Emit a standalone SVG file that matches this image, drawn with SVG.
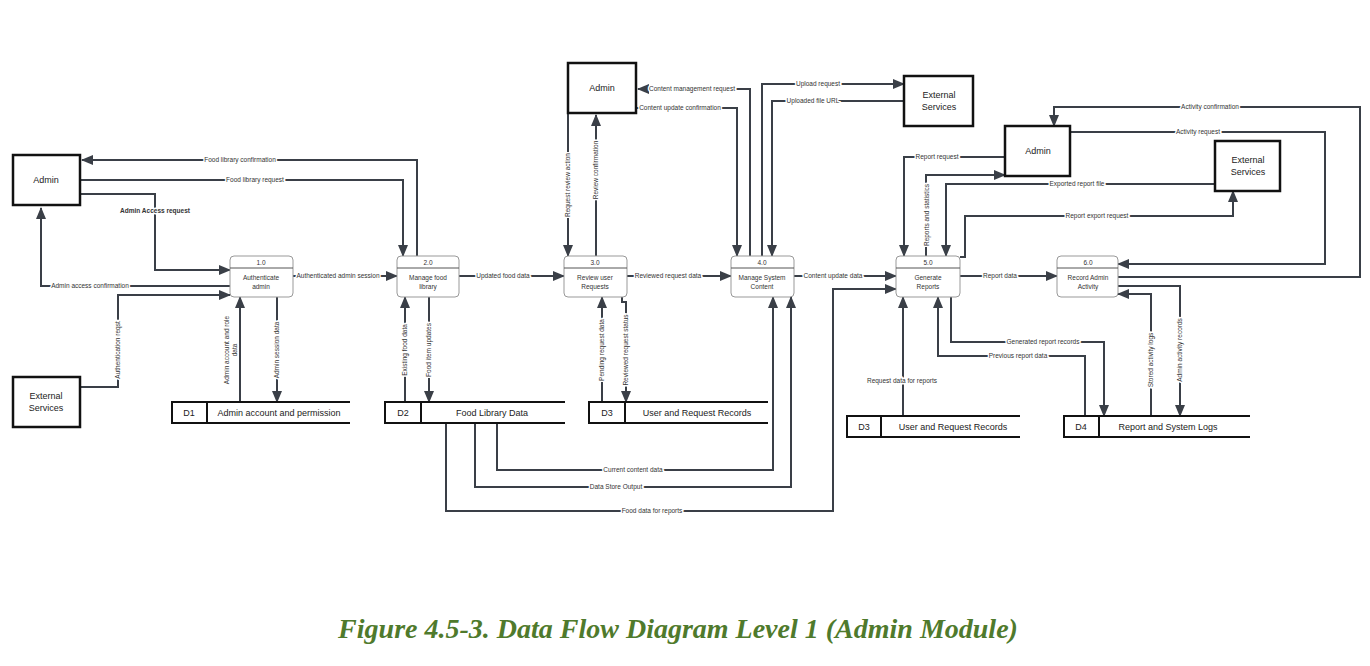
<svg xmlns="http://www.w3.org/2000/svg" width="1370" height="666" viewBox="0 0 1370 666">
<defs>
<marker id="a" viewBox="0 0 12 10" refX="11" refY="5" markerWidth="12" markerHeight="10" orient="auto" markerUnits="userSpaceOnUse"><path d="M0,0 L12,5 L0,10 z" fill="#3a3f47"/></marker>
<style>
text{font-family:"Liberation Sans",Arial,sans-serif;fill:#222}
.ent{fill:#fff;stroke:#111;stroke-width:2.5}
.et{font-size:9px;text-anchor:middle}
.proc{fill:#fff;stroke:#999;stroke-width:1}
.pt{font-size:6.5px;text-anchor:middle;fill:#333}
.st{stroke:#111;stroke-width:2;fill:none}
.stt{font-size:9px;text-anchor:middle}
.c{fill:none;stroke:#3a3f47;stroke-width:2;marker-end:url(#a)}
.l{font-size:6.5px;text-anchor:middle;fill:#333;stroke:#fff;stroke-width:3;paint-order:stroke}
.cap{font-family:"Liberation Serif","Times New Roman",serif;font-size:28px;font-style:italic;font-weight:bold;fill:#4f7a2c;text-anchor:middle}
</style>
</defs>
<rect width="1370" height="666" fill="#fff"/>

<g id="connectors">
<path class="c" d="M80,194 H155 V270 H230"/><text class="l" x="155" y="213" style="font-weight:bold">Admin Access request</text>
<path class="c" d="M230,286 H41 V208"/><text class="l" x="90" y="288">Admin access confirmation</text>
<path class="c" d="M80,387 H118 V295 H230"/><text class="l" transform="translate(120,350) rotate(-90)">Authentication reqst</text>
<path class="c" d="M417,256 V160 H82"/><text class="l" x="240" y="162">Food library confirmation</text>
<path class="c" d="M80,180 H403 V256"/><text class="l" x="255" y="182">Food library request</text>
<path class="c" d="M293,276 H397"/><text class="l" x="338" y="278">Authenticated admin session</text>
<path class="c" d="M240,402 V297"/><text class="l" transform="translate(229,350) rotate(-90)">Admin account and role</text><text class="l" transform="translate(237,350) rotate(-90)">data</text>
<path class="c" d="M277,297 V402"/><text class="l" transform="translate(279,350) rotate(-90)">Admin session data</text>
<path class="c" d="M405,402 V297"/><text class="l" transform="translate(407,350) rotate(-90)">Existing food data</text>
<path class="c" d="M429,297 V402"/><text class="l" transform="translate(431,350) rotate(-90)">Food item updates</text>
<path class="c" d="M459,276 H564"/><text class="l" x="503" y="278">Updated food data</text>
<path class="c" d="M568,113 V256"/><text class="l" transform="translate(570,185) rotate(-90)">Request review action</text>
<path class="c" d="M596,256 V115"/><text class="l" transform="translate(598,170) rotate(-90)">Review confirmation</text>
<path class="c" d="M627,276 H731"/><text class="l" x="668" y="278">Reviewed request data</text>
<path class="c" d="M602,402 V297"/><text class="l" transform="translate(604,350) rotate(-90)">Pending request data</text>
<path class="c" d="M622,297 V302 H626 V402"/><text class="l" transform="translate(628,350) rotate(-90)">Reviewed request status</text>
<path class="c" d="M750,256 V89 H638"/><text class="l" x="692" y="91">Content management request</text>
<path class="c" d="M636,108 H737 V256"/><text class="l" x="680" y="110">Content update confirmation</text>
<path class="c" d="M762,256 V84 H904"/><text class="l" x="818" y="86">Upload request</text>
<path class="c" d="M904,101 H772 V256"/><text class="l" x="813" y="103">Uploaded file URL</text>
<path class="c" d="M794,276 H896"/><text class="l" x="833" y="278">Content update data</text>
<path class="c" d="M497,423 V470 H773 V297"/><text class="l" x="633" y="472">Current content data</text>
<path class="c" d="M475,423 V487 H791 V297"/><text class="l" x="616" y="489">Data Store Output</text>
<path class="c" d="M446,423 V511 H833 V289 H896"/><text class="l" x="652" y="513">Food data for reports</text>
<path class="c" d="M1005,157 H904 V256"/><text class="l" x="937" y="159">Report request</text>
<path class="c" d="M926,256 V175 H1005"/><text class="l" transform="translate(929,215) rotate(-90)">Reports and statistics</text>
<path class="c" d="M1215,184 H946 V256"/><text class="l" x="1077" y="186">Exported report file</text>
<path class="c" d="M960,257 H965 V216 H1233 V191"/><text class="l" x="1097" y="218">Report export request</text>
<path class="c" d="M960,276 H1057"/><text class="l" x="1000" y="278">Report data</text>
<path class="c" d="M1070,132 H1325 V264 H1118"/><text class="l" x="1198" y="134">Activity request</text>
<path class="c" d="M1118,277 H1360 V107 H1054 V126"/><text class="l" x="1210" y="109">Activity confirmation</text>
<path class="c" d="M903,416 V297"/><text class="l" x="902" y="383">Request data for reports</text>
<path class="c" d="M951,297 V342 H1104 V416"/><text class="l" x="1043" y="344">Generated report records</text>
<path class="c" d="M1085,416 V356 H938 V297"/><text class="l" x="1018" y="358">Previous report data</text>
<path class="c" d="M1151,416 V294 H1118"/><text class="l" transform="translate(1153,360) rotate(-90)">Stored activity logs</text>
<path class="c" d="M1118,286 H1180 V416"/><text class="l" transform="translate(1182,350) rotate(-90)">Admin activity records</text>
</g>

<g id="admin-left"><rect class="ent" x="13" y="155" width="67" height="50"/><text class="et" x="46" y="183">Admin</text></g>
<g id="ext-left"><rect class="ent" x="13" y="377" width="67" height="50"/><text class="et" x="46" y="399">External</text><text class="et" x="46" y="411">Services</text></g>
<g id="admin-mid"><rect class="ent" x="568" y="63" width="68" height="50"/><text class="et" x="602" y="91">Admin</text></g>
<g id="ext-top"><rect class="ent" x="904" y="76" width="69" height="50"/><text class="et" x="939" y="98">External</text><text class="et" x="939" y="110">Services</text></g>
<g id="admin-right"><rect class="ent" x="1005" y="126" width="65" height="50"/><text class="et" x="1038" y="154">Admin</text></g>
<g id="ext-right"><rect class="ent" x="1215" y="141" width="65" height="50"/><text class="et" x="1248" y="163">External</text><text class="et" x="1248" y="175">Services</text></g>

<g id="p1"><rect class="proc" x="230" y="256" width="63" height="41" rx="4"/><line x1="230" y1="268" x2="293" y2="268" stroke="#555"/><text class="pt" x="261" y="265">1.0</text><text class="pt" x="261" y="280">Authenticate</text><text class="pt" x="261" y="289">admin</text></g>
<g id="p2"><rect class="proc" x="397" y="256" width="62" height="41" rx="4"/><line x1="397" y1="268" x2="459" y2="268" stroke="#555"/><text class="pt" x="428" y="265">2.0</text><text class="pt" x="428" y="280">Manage food</text><text class="pt" x="428" y="289">library</text></g>
<g id="p3"><rect class="proc" x="564" y="256" width="63" height="41" rx="4"/><line x1="564" y1="268" x2="627" y2="268" stroke="#555"/><text class="pt" x="595" y="265">3.0</text><text class="pt" x="595" y="280">Review user</text><text class="pt" x="595" y="289">Requests</text></g>
<g id="p4"><rect class="proc" x="731" y="256" width="63" height="41" rx="4"/><line x1="731" y1="268" x2="794" y2="268" stroke="#555"/><text class="pt" x="762" y="265">4.0</text><text class="pt" x="762" y="280">Manage System</text><text class="pt" x="762" y="289">Content</text></g>
<g id="p5"><rect class="proc" x="896" y="256" width="64" height="41" rx="4"/><line x1="896" y1="268" x2="960" y2="268" stroke="#555"/><text class="pt" x="928" y="265">5.0</text><text class="pt" x="928" y="280">Generate</text><text class="pt" x="928" y="289">Reports</text></g>
<g id="p6"><rect class="proc" x="1057" y="256" width="61" height="41" rx="4"/><line x1="1057" y1="268" x2="1118" y2="268" stroke="#555"/><text class="pt" x="1088" y="265">6.0</text><text class="pt" x="1088" y="280">Record Admin</text><text class="pt" x="1088" y="289">Activity</text></g>

<g id="d1"><path class="st" d="M350,402 H172 V423 H350 M207,402 V423"/><text class="stt" x="189" y="416">D1</text><text class="stt" x="279" y="416">Admin account and permission</text></g>
<g id="d2"><path class="st" d="M565,402 H385 V423 H565 M421,402 V423"/><text class="stt" x="403" y="416">D2</text><text class="stt" x="492" y="416">Food Library Data</text></g>
<g id="d3a"><path class="st" d="M768,402 H589 V423 H768 M625,402 V423"/><text class="stt" x="607" y="416">D3</text><text class="stt" x="697" y="416">User and Request Records</text></g>
<g id="d3b"><path class="st" d="M1020,416 H847 V437 H1020 M881,416 V437"/><text class="stt" x="864" y="430">D3</text><text class="stt" x="953" y="430">User and Request Records</text></g>
<g id="d4"><path class="st" d="M1250,416 H1064 V437 H1250 M1099,416 V437"/><text class="stt" x="1081" y="430">D4</text><text class="stt" x="1168" y="430">Report and System Logs</text></g>

<text class="cap" x="678" y="638">Figure 4.5-3. Data Flow Diagram Level 1 (Admin Module)</text>
</svg>
